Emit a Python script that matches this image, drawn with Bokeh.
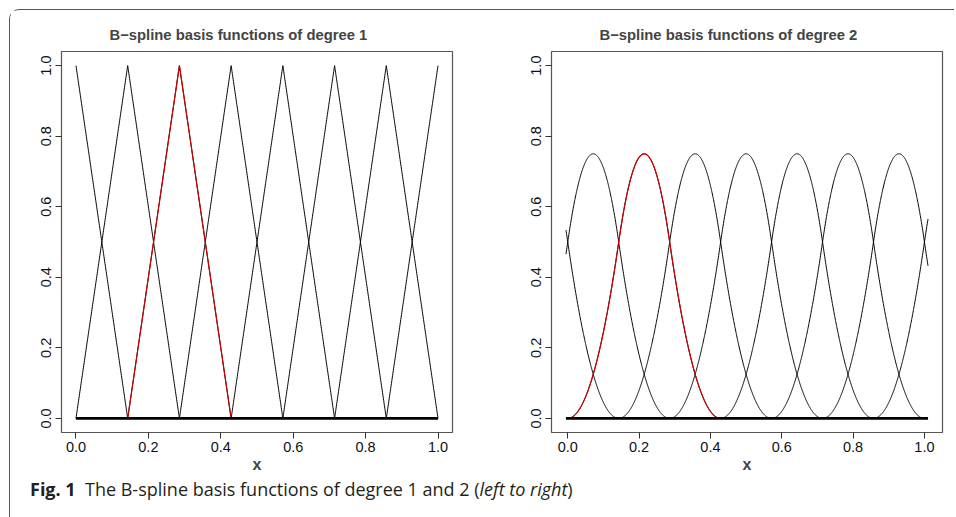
import numpy as np
from bokeh.plotting import figure
from bokeh.layouts import row, column
from bokeh.models import Range1d, FixedTicker, Div
from bokeh.embed import file_html
from bokeh.resources import INLINE

# ---- data -----------------------------------------------------------------
TITLES = ["B\u2212spline basis functions of degree 1",
          "B\u2212spline basis functions of degree 2"]
DEGREES = [1, 2]
# equally spaced knots (spacing 1/7), extended beyond [0, 1]
KNOTS_DEG1 = [-0.142857, 0.0, 0.142857, 0.285714, 0.428571, 0.571429,
              0.714286, 0.857143, 1.0, 1.142857]
KNOTS_DEG2 = [-0.285714, -0.142857, 0.0, 0.142857, 0.285714, 0.428571,
              0.571429, 0.714286, 0.857143, 1.0, 1.142857, 1.285714]
X_EVAL_DEG1 = [0.0, 1.0]          # evaluation interval, left panel
X_EVAL_DEG2 = [-0.005, 1.01]      # evaluation interval, right panel
HIGHLIGHT = 2                     # index of the basis function drawn in red
X_TICKS = [0.0, 0.2, 0.4, 0.6, 0.8, 1.0]
X_TICK_LABELS = ["0.0", "0.2", "0.4", "0.6", "0.8", "1.0"]
Y_TICKS = [0.0, 0.2, 0.4, 0.6, 0.8, 1.0]
Y_TICK_LABELS = ["0.0", "0.2", "0.4", "0.6", "0.8", "1.0"]
X_LABEL = "x"
CAPTION_BOLD = "Fig. 1"
CAPTION_TEXT = "The B-spline basis functions of degree 1 and 2 ("
CAPTION_ITALIC = "left to right"
CAPTION_END = ")"


def bspline_basis(x, t, k):
    t = np.asarray(t, dtype=float)
    B = [((x >= t[i]) & (x < t[i + 1])).astype(float) for i in range(len(t) - 1)]
    for d in range(1, k + 1):
        nb = []
        for i in range(len(t) - 1 - d):
            left = (x - t[i]) / (t[i + d] - t[i]) * B[i]
            right = (t[i + d + 1] - x) / (t[i + d + 1] - t[i + 1]) * B[i + 1]
            nb.append(left + right)
        B = nb
    return B


def grid(lo, hi, knots):
    g = np.linspace(lo, hi, 1500)
    kk = [k for k in knots if lo <= k <= hi]
    return np.unique(np.concatenate([g, kk]))


FONT = "Liberation Sans"


def make_panel(title, knots, deg, xev, min_left, min_right):
    x = grid(xev[0], xev[1], knots)
    basis = bspline_basis(x, knots, deg)
    r = xev[1] - xev[0]
    p = figure(frame_width=391, frame_height=381,
               x_range=Range1d(xev[0] - 0.04 * r, xev[1] + 0.04 * r),
               y_range=Range1d(-0.04, 1.04),
               output_backend="svg", toolbar_location=None,
               min_border_left=min_left, min_border_right=min_right,
               min_border_top=41, min_border_bottom=44,
               background_fill_color="white", border_fill_color="white")
    p.grid.visible = False
    p.outline_line_color = "#555555"
    p.outline_line_width = 1.2

    p.title.text = title
    p.title.text_font = FONT
    p.title.text_font_style = "bold"
    p.title.text_font_size = "14.8px"
    p.title.align = "left"
    p.title.offset = 48
    p.title.standoff = 18

    for ax in (p.xaxis[0], p.yaxis[0]):
        ax.axis_line_color = None
        ax.major_tick_line_color = "#333333"
        ax.major_tick_out = 6
        ax.major_tick_in = 0
        ax.minor_tick_line_color = None
        ax.major_label_text_font = FONT
        ax.major_label_text_font_size = "14.5px"
        ax.major_label_text_color = "#111111"
    p.xaxis.ticker = FixedTicker(ticks=X_TICKS)
    p.xaxis.major_label_overrides = dict(zip(X_TICKS, X_TICK_LABELS))
    p.yaxis.ticker = FixedTicker(ticks=Y_TICKS)
    p.yaxis.major_label_overrides = dict(zip(Y_TICKS, Y_TICK_LABELS))
    p.yaxis.major_label_orientation = "vertical"
    p.yaxis.major_label_standoff = 4
    p.xaxis.major_label_standoff = 3
    p.xaxis.axis_label = X_LABEL
    p.xaxis.axis_label_text_font = FONT
    p.xaxis.axis_label_text_font_style = "bold"
    p.xaxis.axis_label_text_font_size = "16px"
    p.xaxis.axis_label_standoff = 1

    for b in basis:
        p.line(x, b, line_color="black", line_width=1)
    hb = np.where(basis[HIGHLIGHT] > 1e-9, basis[HIGHLIGHT], np.nan)
    p.line(x, hb, line_color="#cc0000", line_width=1.2)
    # overlapping zero stretches of all basis functions (R draws them many times)
    zero = np.where(np.min(np.vstack(basis), axis=0) <= 1e-9, 0.0, np.nan)
    p.line(x, zero, line_color="black", line_width=2.6)
    return p


p1 = make_panel(TITLES[0], KNOTS_DEG1, DEGREES[0], X_EVAL_DEG1, 51, 48)
p2 = make_panel(TITLES[1], KNOTS_DEG2, DEGREES[1], X_EVAL_DEG2, 51, 12)

cap = Div(text=f"<b>{CAPTION_BOLD}</b>&nbsp;&nbsp;{CAPTION_TEXT}<i>{CAPTION_ITALIC}</i>{CAPTION_END}",
          width=930, height=36,
          styles={"font-family": "Open Sans", "font-size": "18px",
                  "color": "#231f20", "padding-left": "15px",
                  "line-height": "17px"})

layout = column(row(p1, p2), cap,
                styles={"margin-left": "9px", "margin-top": "9px",
                        "border-left": "1px solid #555",
                        "border-top": "1px solid #555",
                        "border-top-left-radius": "10px",
                        "background-color": "white"})

open("out.html", "w").write(file_html(layout, INLINE))
